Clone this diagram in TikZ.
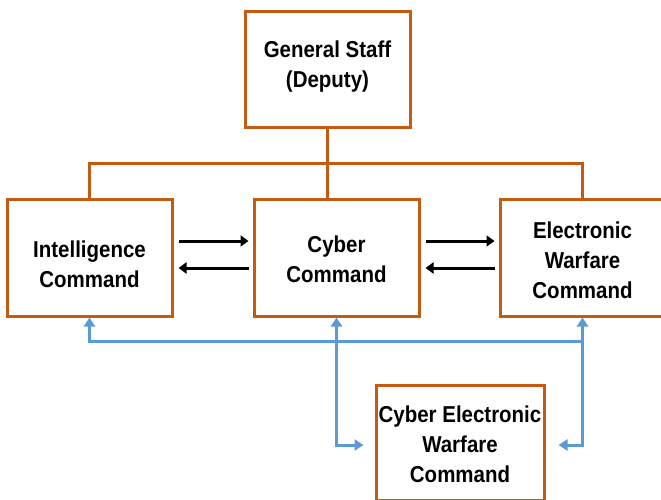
\documentclass[tikz,border=0pt]{standalone}
\usepackage{fontspec}
\setmainfont{Liberation Sans}[FakeStretch=0.89]
\usetikzlibrary{arrows.meta}
\definecolor{cmdorange}{RGB}{197,90,17}
\definecolor{linkblue}{RGB}{91,155,213}
\newcommand{\boxtext}[2]{\raisebox{#1}[\height][\depth]{\begin{tabular}{@{}c@{}}#2\end{tabular}}}
\begin{document}
\begin{tikzpicture}[x=1pt,y=-1pt,
    cmd/.style={draw=cmdorange,line width=3pt,fill=white,inner sep=0pt,
      minimum width=165pt,minimum height=117pt,
      font=\fontsize{23}{30}\selectfont\bfseries},
    tree/.style={draw=cmdorange,line width=3pt},
    flow/.style={line width=3pt,-{Triangle[length=8pt,width=11pt]}},
    bluelink/.style={draw=linkblue,line width=3pt,>={Triangle[length=9pt,width=11pt]}}]
    \useasboundingbox[fill=white] (0,0) rectangle (661,500);
    %% boxes
    \node[cmd,minimum height=116pt] (gs) at (327.5,70) {\boxtext{3.5pt}{General Staff\\(Deputy)}};
    \node[cmd] (intel) at (89.5,257.5) {\boxtext{-9pt}{Intelligence\\Command}};
    \node[cmd] (cyber) at (336.5,257.5) {\boxtext{-3.5pt}{Cyber\\Command}};
    \node[cmd] (ew) at (582.5,257.5) {\boxtext{-5pt}{Electronic\\Warfare\\Command}};
    \node[cmd,minimum width=168pt,minimum height=115pt] (cew) at (460,442.5) {\boxtext{-3.5pt}{Cyber Electronic\\Warfare\\Command}};
    %% orange tree
    \coordinate (bus) at (327,163);
    \draw[tree] (gs.south) -- (gs.south |- cyber.north);
    \draw[tree] (intel.north) |- (bus) -| (ew.north);
    %% black arrows
    \draw[flow] ([xshift=5pt,yshift=16.5pt]intel.east) -- ([xshift=-4pt,yshift=16.5pt]cyber.west);
    \draw[flow] ([xshift=-4pt,yshift=-10.5pt]cyber.west) -- ([xshift=5pt,yshift=-10.5pt]intel.east);
    \draw[flow] ([xshift=5pt,yshift=16.5pt]cyber.east) -- ([xshift=-4pt,yshift=16.5pt]ew.west);
    \draw[flow] ([xshift=-4pt,yshift=-10.5pt]ew.west) -- ([xshift=5pt,yshift=-10.5pt]cyber.east);
    %% blue links
    \coordinate (lowbus) at (582.5,341);
    \draw[bluelink,<->] (intel.south) |- (lowbus) -- (ew.south);
    \draw[bluelink,<->] (cyber.south) |- ([xshift=-11pt,yshift=-2.5pt]cew.west);
    \draw[bluelink,->] (lowbus) |- ([xshift=13pt,yshift=-2.5pt]cew.east);
\end{tikzpicture}
\end{document}
